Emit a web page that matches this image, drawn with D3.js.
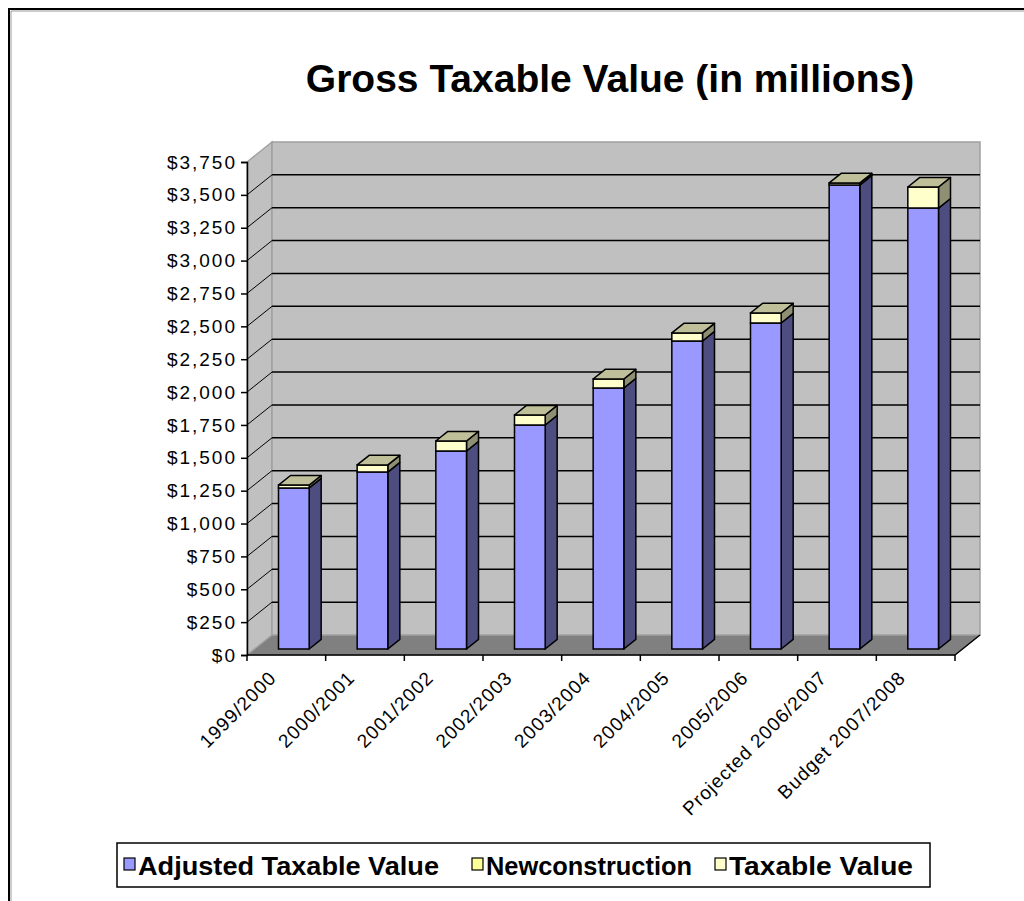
<!DOCTYPE html>
<html>
<head>
<meta charset="utf-8">
<script src="https://cdn.jsdelivr.net/npm/d3@7"></script>
<style>
  html, body { margin: 0; padding: 0; background: #fff; }
  svg { display: block; }
  text { font-family: "Liberation Sans", Arial, sans-serif; fill: #000; }
</style>
</head>
<body>
<svg id="chart" width="1024" height="901"></svg>
<script>
// ---------- data ----------
const categories = ["1999/2000", "2000/2001", "2001/2002", "2002/2003", "2003/2004",
                    "2004/2005", "2005/2006", "Projected 2006/2007", "Budget 2007/2008"];
const adjustedTaxableValue = [1225, 1346, 1506, 1704, 1985, 2343, 2480, 3529, 3354];
const newconstruction      = [0, 0, 0, 0, 0, 0, 0, 0, 0];
const taxableValue         = [22, 54, 76, 76, 69, 61, 76, 16, 160];
const seriesNames  = ["Adjusted Taxable Value", "Newconstruction", "Taxable Value"];
const yTicks = [0, 250, 500, 750, 1000, 1250, 1500, 1750, 2000, 2250, 2500, 2750, 3000, 3250, 3500, 3750];
const titleText = "Gross Taxable Value (in millions)";

// ---------- styles ----------
const seriesColors = [
  {front: "#9999FF", side: "#4D4D80", top: "#7A7ACC"},
  {front: "#FFFF99", side: "#80804D", top: "#CCCC7A"},
  {front: "#FFFFCC", side: "#8F8F73", top: "#BFBF99"}
];

const svg = d3.select("#chart");

// outer chart-area border
svg.append("path").attr("d", "M9,901 V9 H1024").attr("fill", "none").attr("stroke", "#000").attr("stroke-width", 2);
svg.append("path").attr("d", "M11,901 V11 H1024").attr("fill", "none").attr("stroke", "#999").attr("stroke-width", 1);

// title
svg.append("text").attr("x", 610).attr("y", 92).attr("text-anchor", "middle")
  .style("font-size", "39px").style("font-weight", "bold").text(titleText);

// ---------- geometry ----------
const x0 = 247, x1 = 955;
const DX = 25, DY = -20;           // full depth projection
const dFront = 0.30, dBack = 0.78; // bar depth range
const y = d3.scaleLinear().domain([0, 3750]).range([655, 162]);
const x = d3.scaleBand().domain(categories).range([x0, x1]).padding(0);
const barW = x.bandwidth() * 0.39;

const g = svg.append("g");

// floor
g.append("path")
  .attr("d", `M${x0},${y(0)} L${x0 + DX},${y(0) + DY} L${x1 + DX},${y(0) + DY} L${x1},${y(0)} Z`)
  .attr("fill", "#808080").attr("stroke", "#808080");
// left wall
g.append("path")
  .attr("d", `M${x0},${y(0)} L${x0},${y(3750)} L${x0 + DX},${y(3750) + DY} L${x0 + DX},${y(0) + DY} Z`)
  .attr("fill", "#C0C0C0").attr("stroke", "#A0A0A0").attr("stroke-width", 1.5);
// back wall
g.append("rect")
  .attr("x", x0 + DX).attr("y", y(3750) + DY)
  .attr("width", x1 - x0).attr("height", y(0) - y(3750))
  .attr("fill", "#C0C0C0").attr("stroke", "#A0A0A0").attr("stroke-width", 1.5);

// gridlines (back wall + left wall)
yTicks.filter(t => t > 0 && t < 3750).forEach(t => {
  g.append("line")
    .attr("x1", x0 + DX).attr("x2", x1 + DX)
    .attr("y1", y(t) + DY).attr("y2", y(t) + DY)
    .attr("stroke", "#000").attr("stroke-width", 1.5);
  g.append("line")
    .attr("x1", x0).attr("x2", x0 + DX)
    .attr("y1", y(t)).attr("y2", y(t) + DY)
    .attr("stroke", "#000").attr("stroke-width", 1);
});

// ---------- bars ----------
const stackData = categories.map((c, i) => ({
  cat: c, vals: [adjustedTaxableValue[i], newconstruction[i], taxableValue[i]]
}));

stackData.forEach(d => {
  const xl = x(d.cat) + (x.bandwidth() - barW) / 2 + dFront * DX;
  const xr = xl + barW;
  const ox = (dBack - dFront) * DX, oy = (dBack - dFront) * DY;
  const yOff = dFront * DY;
  let base = 0;
  const segs = [];
  d.vals.forEach((v, s) => { if (v > 0) { segs.push({s, b: base, t: base + v}); } base += v; });
  const bg = g.append("g");
  segs.forEach((seg, k) => {
    const yb = y(seg.b) + yOff, yt = y(seg.t) + yOff;
    const col = seriesColors[seg.s];
    bg.append("path")
      .attr("d", `M${xr},${yb} L${xr + ox},${yb + oy} L${xr + ox},${yt + oy} L${xr},${yt} Z`)
      .attr("fill", col.side).attr("stroke", "#000").attr("stroke-width", 1.5).attr("stroke-linejoin", "round");
    bg.append("path")
      .attr("d", `M${xl},${yb} L${xr},${yb} L${xr},${yt} L${xl},${yt} Z`)
      .attr("fill", col.front).attr("stroke", "#000").attr("stroke-width", 1.5);
    if (k === segs.length - 1) {
      bg.append("path")
        .attr("d", `M${xl},${yt} L${xr},${yt} L${xr + ox},${yt + oy} L${xl + ox},${yt + oy} Z`)
        .attr("fill", col.top).attr("stroke", "#000").attr("stroke-width", 1.5).attr("stroke-linejoin", "round");
    }
  });
});

// ---------- axes ----------
const yAxis = d3.axisLeft(y).tickValues(yTicks).tickSize(6).tickPadding(4)
  .tickFormat(d => "$" + d3.format(",")(d));
const ya = svg.append("g").attr("transform", `translate(${x0},0)`).call(yAxis);
ya.select(".domain").attr("stroke", "#000").attr("stroke-width", 1.5);
ya.selectAll(".tick line").attr("stroke", "#000").attr("stroke-width", 1.5);
ya.selectAll(".tick text").style("font-size", "19px").style("font-family", "'Liberation Sans', Arial, sans-serif")
  .attr("letter-spacing", "2px");

const xa = svg.append("g").attr("transform", `translate(0,${y(0)})`);
xa.append("line").attr("x1", x0).attr("x2", x1).attr("y1", 0).attr("y2", 0)
  .attr("stroke", "#000").attr("stroke-width", 1.5);
xa.append("line").attr("x1", x1).attr("x2", x1 + DX).attr("y1", 0).attr("y2", DY)
  .attr("stroke", "#000").attr("stroke-width", 1.5);
const bounds = categories.map(c => x(c)).concat([x1]);
xa.selectAll("line.tk").data(bounds).enter().append("line").attr("class", "tk")
  .attr("x1", d => d).attr("x2", d => d).attr("y1", 0).attr("y2", 6)
  .attr("stroke", "#000").attr("stroke-width", 1.5);
xa.selectAll("text.xl").data(categories).enter().append("text").attr("class", "xl")
  .attr("text-anchor", "end")
  .attr("transform", d => `translate(${x(d) + x.bandwidth() / 2 - 9},${24}) rotate(-45)`)
  .style("font-size", "19px").attr("letter-spacing", "1px")
  .text(d => d);

// ---------- legend ----------
const lg = svg.append("g");
lg.append("rect").attr("x", 117).attr("y", 843).attr("width", 813).attr("height", 44)
  .attr("fill", "#fff").attr("stroke", "#000").attr("stroke-width", 1.5);
const legendX = [124, 472, 715];
const legendW = [301, 206, 184];
seriesNames.forEach((n, i) => {
  lg.append("rect").attr("x", legendX[i]).attr("y", 858).attr("width", 11).attr("height", 12)
    .attr("fill", seriesColors[i].front).attr("stroke", "#000").attr("stroke-width", 1.2);
  lg.append("text").attr("x", legendX[i] + 14).attr("y", 875)
    .attr("textLength", legendW[i]).attr("lengthAdjust", "spacingAndGlyphs")
    .style("font-size", "25px").style("font-weight", "bold").text(n);
});
</script>
</body>
</html>
